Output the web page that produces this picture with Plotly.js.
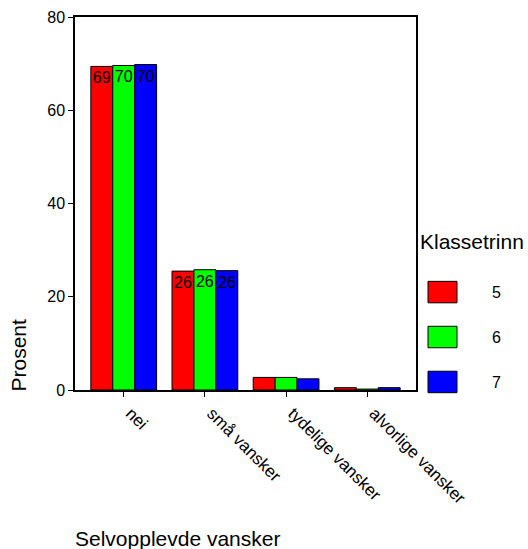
<!DOCTYPE html>
<html>
<head>
<meta charset="utf-8">
<script src="https://cdn.plot.ly/plotly-3.0.1.min.js"></script>
<style>html,body{margin:0;padding:0;background:#fff;}#chart{width:528px;height:549px;}</style>
</head>
<body>
<div id="chart"></div>
<script>
const categories = ['nei', 'små vansker', 'tydelige vansker', 'alvorlige vansker'];
const grades = ['5', '6', '7'];
const colors = ['#ff0000', '#00ff00', '#0000ff'];
const pct5 = [69.4, 25.5, 2.7, 0.5];
const pct6 = [69.6, 25.8, 2.7, 0.2];
const pct7 = [69.8, 25.6, 2.4, 0.5];
const yTicks = [0, 20, 40, 60, 80];
const xTitle = 'Selvopplevde vansker';
const yTitle = 'Prosent';
const legendTitle = 'Klassetrinn';

const series = [pct5, pct6, pct7];
const FONT = 'Arial, "Liberation Sans", sans-serif';
const W = 528, H = 549;
const M = {l: 75, r: 112, t: 17, b: 158.5};
const pw = W - M.l - M.r, ph = H - M.t - M.b;
const px2x = px => (px - M.l) / pw;
const px2y = py => (H - M.b - py) / ph;

const traces = series.map((vals, i) => ({
  type: 'bar',
  name: grades[i],
  x: categories,
  y: vals,
  text: vals.map(v => v >= 10 ? String(Math.round(v)) : ''),
  textposition: 'inside',
  insidetextanchor: 'end',
  textangle: 0,
  constraintext: 'none',
  textfont: {family: FONT, size: 16, color: '#000'},
  marker: {color: colors[i], line: {color: '#000', width: 1}},
  hoverinfo: 'x+y+name',
  cliponaxis: false
}));

const shapes = [];
const annotations = [];
grades.forEach((g, i) => {
  const top = 281.7 + i * 45;
  shapes.push({
    type: 'rect', xref: 'paper', yref: 'paper',
    x0: px2x(428), x1: px2x(457), y0: px2y(top + 21.5), y1: px2y(top),
    fillcolor: colors[i], line: {color: '#000', width: 1}
  });
  annotations.push({
    xref: 'paper', yref: 'paper', x: px2x(496), y: px2y(top + 11),
    text: g, showarrow: false, xanchor: 'center', yanchor: 'middle',
    font: {family: FONT, size: 16, color: '#000'}
  });
});
annotations.push({
  xref: 'paper', yref: 'paper', x: px2x(418), y: px2y(242),
  text: legendTitle, showarrow: false, xanchor: 'left', yanchor: 'middle',
  font: {family: FONT, size: 21, color: '#000'}
});
annotations.push({
  xref: 'paper', yref: 'paper', x: px2x(73), y: px2y(539),
  text: xTitle, showarrow: false, xanchor: 'left', yanchor: 'middle',
  font: {family: FONT, size: 21, color: '#000'}
});
annotations.push({
  xref: 'paper', yref: 'paper', x: px2x(19), y: px2y(356),
  text: yTitle, showarrow: false, xanchor: 'center', yanchor: 'middle',
  textangle: -90,
  font: {family: FONT, size: 21, color: '#000'}
});

const layout = {
  width: W, height: H,
  margin: M,
  paper_bgcolor: '#fff', plot_bgcolor: '#fff',
  showlegend: false,
  barmode: 'group',
  bargap: 0.19,
  bargroupgap: 0,
  font: {family: FONT, size: 15, color: '#000'},
  xaxis: {
    type: 'category',
    range: [-0.6, 3.6],
    showline: true, linecolor: '#000', linewidth: 1.5, mirror: true,
    ticks: 'outside', ticklen: 5, tickcolor: '#000', tickwidth: 1,
    tickangle: 45,
    ticklabelshift: 7,
    tickfont: {family: FONT, size: 17, color: '#000'},
    showgrid: false, zeroline: false,
    fixedrange: true
  },
  yaxis: {
    range: [0, 80],
    tickvals: yTicks,
    ticktext: yTicks.map(String),
    showline: true, linecolor: '#000', linewidth: 1.5, mirror: true,
    ticks: 'outside', ticklen: 5, tickcolor: '#000', tickwidth: 1,
    tickfont: {family: FONT, size: 16, color: '#000'},
    showgrid: false, zeroline: false,
    fixedrange: true
  },
  shapes: shapes,
  annotations: annotations
};

Plotly.newPlot('chart', traces, layout, {displayModeBar: false});
</script>
</body>
</html>
